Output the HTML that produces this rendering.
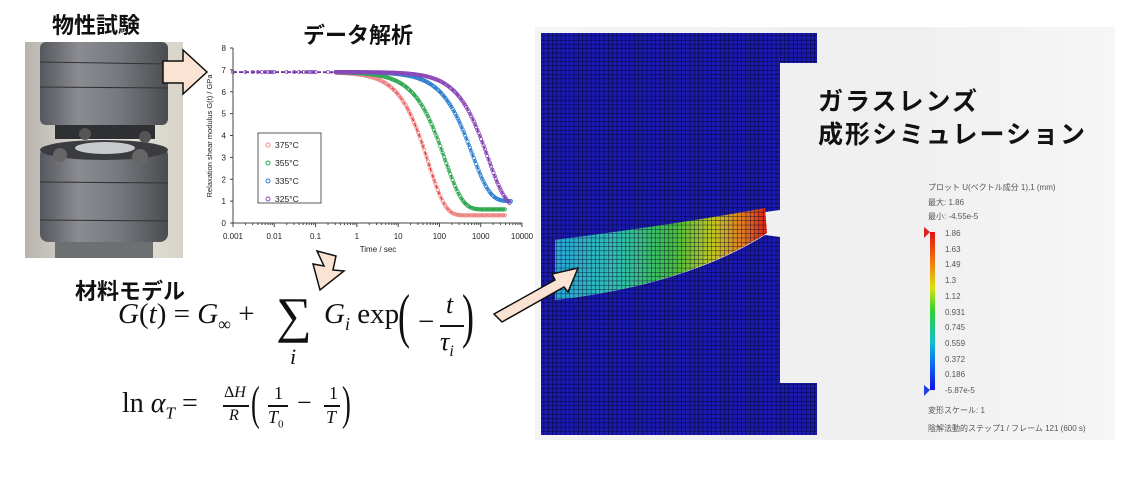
<!DOCTYPE html>
<html><head><meta charset="utf-8"><style>
html,body{margin:0;padding:0;background:#fff;width:1133px;height:479px;overflow:hidden;position:relative;font-family:"Liberation Sans","Noto Sans CJK JP",sans-serif}
.t{position:absolute;font-weight:bold;color:#111;white-space:nowrap}
.m{position:absolute;font-family:"Liberation Serif","DejaVu Serif",serif;color:#111;white-space:nowrap}
</style></head><body>
<div class="t" style="left:52px;top:8px;font-size:22px">物性試験</div>
<div class="t" style="left:303px;top:18px;font-size:22px">データ解析</div>
<div class="t" style="left:75px;top:274px;font-size:22px">材料モデル</div>

<!-- photo -->
<svg style="position:absolute;left:25px;top:42px" width="158" height="216">
<defs>
<linearGradient id="cyl" x1="0" x2="1"><stop offset="0" stop-color="#55575c"/><stop offset=".3" stop-color="#8a8c92"/><stop offset=".6" stop-color="#777a80"/><stop offset="1" stop-color="#4a4c50"/></linearGradient>
<linearGradient id="bgp" x1="0" x2="1"><stop offset="0" stop-color="#b8b4ad"/><stop offset=".5" stop-color="#e8e6e0"/><stop offset="1" stop-color="#d8d4c8"/></linearGradient>
</defs>
<rect width="158" height="216" fill="url(#bgp)"/>
<rect x="15" y="0" width="128" height="83" rx="6" fill="url(#cyl)"/>
<line x1="15" y1="20" x2="143" y2="22" stroke="#333" stroke-width="1"/>
<line x1="15" y1="45" x2="143" y2="46" stroke="#333" stroke-width="1"/>
<rect x="30" y="83" width="100" height="14" fill="#2e3034"/>
<rect x="15" y="105" width="128" height="95" rx="8" fill="url(#cyl)"/>
<ellipse cx="79" cy="108" rx="64" ry="10" fill="#3a3c40"/>
<ellipse cx="80" cy="106" rx="30" ry="6" fill="#c8cacc"/>
<circle cx="35" cy="113" r="7" fill="#666"/><circle cx="115" cy="115" r="8" fill="#666"/><circle cx="120" cy="95" r="6" fill="#555"/><circle cx="60" cy="92" r="6" fill="#555"/>
<line x1="15" y1="140" x2="143" y2="141" stroke="#333"/>
<line x1="15" y1="178" x2="143" y2="179" stroke="#333"/>
<rect x="30" y="200" width="98" height="16" fill="#6d6f73"/>
</svg>

<!-- chart -->
<svg id="ch" style="position:absolute;left:0;top:0" width="540" height="270" font-family="Liberation Sans,sans-serif"></svg>

<!-- formulas -->
<div class="m" style="left:118px;top:298px;font-size:29px"><i>G</i>(<i>t</i>) = <i>G</i><sub style="font-size:18px">∞</sub> +</div>
<div class="m" style="left:276px;top:286px;font-size:50px">∑</div>
<div class="m" style="left:290px;top:344px;font-size:22px"><i>i</i></div>
<div class="m" style="left:324px;top:298px;font-size:29px"><i>G<sub style="font-size:18px">i</sub></i> exp</div>
<div class="m" style="left:398px;top:282px;font-size:60px;transform:scaleX(.6);transform-origin:left">(</div>
<div class="m" style="left:418px;top:306px;font-size:29px">−</div>
<div class="m" style="left:446px;top:290px;font-size:26px"><i>t</i></div>
<div style="position:absolute;left:440px;top:325px;width:24px;height:2px;background:#111"></div>
<div class="m" style="left:440px;top:327px;font-size:26px"><i>τ<sub style="font-size:16px">i</sub></i></div>
<div class="m" style="left:462px;top:282px;font-size:60px;transform:scaleX(.6);transform-origin:left">)</div>

<div class="m" style="left:122px;top:388px;font-size:28px">ln <i>α<sub style="font-size:17px">T</sub></i> =</div>
<div class="m" style="left:224px;top:384px;font-size:16px">Δ<i>H</i></div>
<div style="position:absolute;left:223px;top:405px;width:26px;height:1.5px;background:#111"></div>
<div class="m" style="left:229px;top:407px;font-size:16px"><i>R</i></div>
<div class="m" style="left:251px;top:376px;font-size:48px;transform:scaleX(.55);transform-origin:left">(</div>
<div class="m" style="left:274px;top:383px;font-size:18px">1</div>
<div style="position:absolute;left:268px;top:405px;width:20px;height:1.5px;background:#111"></div>
<div class="m" style="left:268px;top:407px;font-size:18px"><i>T</i><sub style="font-size:11px">0</sub></div>
<div class="m" style="left:297px;top:388px;font-size:26px">−</div>
<div class="m" style="left:329px;top:383px;font-size:18px">1</div>
<div style="position:absolute;left:324px;top:405px;width:16px;height:1.5px;background:#111"></div>
<div class="m" style="left:326px;top:407px;font-size:18px"><i>T</i></div>
<div class="m" style="left:342px;top:376px;font-size:48px;transform:scaleX(.55);transform-origin:left">)</div>

<!-- simulation -->
<div style="position:absolute;left:535px;top:27px;width:580px;height:413px;background:linear-gradient(90deg,#f4f4f4,#efefef 60%,#f6f6f6)"></div>
<svg style="position:absolute;left:535px;top:27px" width="580" height="413">
<defs>
<pattern id="mesh" width="4.3" height="4.3" patternUnits="userSpaceOnUse"><path d="M0 0H4.3M0 0V4.3" stroke="#05052a" stroke-width="1" fill="none"/></pattern>
<linearGradient id="lens" x1="0" x2="1"><stop offset="0" stop-color="#28a8d8"/><stop offset=".3" stop-color="#30c0b0"/><stop offset=".55" stop-color="#40c040"/><stop offset=".75" stop-color="#c8c820"/><stop offset=".88" stop-color="#e08020"/><stop offset="1" stop-color="#e02010"/></linearGradient>
<linearGradient id="cb" x1="0" x2="0" y1="0" y2="1"><stop offset="0" stop-color="#e01010"/><stop offset=".2" stop-color="#f08010"/><stop offset=".35" stop-color="#e0e010"/><stop offset=".5" stop-color="#30d030"/><stop offset=".7" stop-color="#10c0d0"/><stop offset=".85" stop-color="#1060f0"/><stop offset="1" stop-color="#1010e0"/></linearGradient>
</defs>
<path d="M6 6H282V36H245V183L230 185Q150 196 20 213V273Q150 258 230 208L245 210V356H282V408H6Z" fill="#1a1ab0"/>
<path d="M6 6H282V36H245V183L230 185Q150 196 20 213V273Q150 258 230 208L245 210V356H282V408H6Z" fill="url(#mesh)"/>
<path d="M20 213Q150 196 230 181L232 206Q150 258 20 273Z" fill="url(#lens)"/>
<path d="M20 213Q150 196 230 181L232 206Q150 258 20 273Z" fill="url(#mesh)" opacity=".85"/>
<rect x="395" y="205" width="5" height="158" fill="url(#cb)"/>
<polygon points="389,200 395,205 389,211" fill="#e02020"/>
<polygon points="389,358 395,363 389,369" fill="#2040e0"/>
<g font-size="8" fill="#555" font-family="Liberation Sans,Noto Sans CJK JP,sans-serif">
<text x="393" y="163">プロット U(ベクトル成分 1),1 (mm)</text>
<text x="393" y="178">最大: 1.86</text>
<text x="393" y="192">最小: -4.55e-5</text>
<text x="410" y="209">1.86</text><text x="410" y="225">1.63</text><text x="410" y="240">1.49</text><text x="410" y="256">1.3</text><text x="410" y="272">1.12</text><text x="410" y="288">0.931</text><text x="410" y="303">0.745</text><text x="410" y="319">0.559</text><text x="410" y="335">0.372</text><text x="410" y="350">0.186</text><text x="410" y="366">-5.87e-5</text>
<text x="393" y="386">変形スケール: 1</text>
<text x="393" y="404">陰解法動的ステップ1 / フレーム 121 (600 s)</text>
</g>
</svg>
<div class="t" style="left:818px;top:82px;font-size:25px;letter-spacing:2px">ガラスレンズ</div>
<div class="t" style="left:818px;top:115px;font-size:25px;letter-spacing:2px">成形シミュレーション</div>

<!-- arrows -->
<svg style="position:absolute;left:0;top:0" width="600" height="479">
<polygon points="163,61 183,61 183,50 207,72 183,94 183,83 163,83" fill="#fbe3d3" stroke="#111" stroke-width="1.5"/>
<polygon points="317,251 336,256 333,270 344,271 320,290 313,264 324,266" fill="#fbe3d3" stroke="#111" stroke-width="1.5"/>
<polygon points="494,314 555,280 552,274 578,268 568,292 564,287 502,322" fill="#fbe3d3" stroke="#111" stroke-width="1.5"/>
</svg>

<script>
var s=document.getElementById('ch'),h='';
var X0=233,X1=522,Y0=223,Y1=48;
function px(l){return X0+(l+3)/7*(X1-X0);}function py(g){return Y0-g/8*(Y0-Y1);}
h+='<rect x="'+X0+'" y="'+Y1+'" width="'+(X1-X0)+'" height="'+(Y0-Y1)+'" fill="#fff"/>';
h+='<path d="M'+X0+' '+Y1+'V'+Y0+'H'+X1+'" stroke="#444" fill="none" stroke-width="1"/>';
for(var i=0;i<=8;i++){h+='<text x="'+(X0-7)+'" y="'+(py(i)+3)+'" font-size="8" text-anchor="end" fill="#222">'+i+'</text><line x1="'+(X0-3)+'" x2="'+X0+'" y1="'+py(i)+'" y2="'+py(i)+'" stroke="#444"/>';}
var lb=['0.001','0.01','0.1','1','10','100','1000','10000'];
for(var d=-3;d<=4;d++){h+='<text x="'+px(d)+'" y="'+(Y0+16)+'" font-size="8" text-anchor="middle" fill="#222">'+lb[d+3]+'</text><line x1="'+px(d)+'" x2="'+px(d)+'" y1="'+Y0+'" y2="'+(Y0+4)+'" stroke="#444"/>';
 if(d<4)for(var k=2;k<10;k++){var x=px(d+Math.log10(k));h+='<line x1="'+x+'" x2="'+x+'" y1="'+Y0+'" y2="'+(Y0+2)+'" stroke="#444"/>';}}
h+='<text x="378" y="252" font-size="8" text-anchor="middle" fill="#222">Time / sec</text>';
h+='<text transform="translate(212,136) rotate(-90)" font-size="7.5" text-anchor="middle" fill="#222">Relaxation shear modulus G(t) / GPa</text>';
// color, line, Ginf, tau, beta, end log
var S=[['#f08a8a','#e02020',0.35,54,1.05,3.6],['#30a850','#20a040',0.62,135,1.0,3.6],['#2c7fd0','#2070c8',1.0,620,1.0,3.75],['#8a48b8','#7030a0',0.7,1500,1.0,3.7]];
function G(c,l){var t=Math.pow(10,l);return c[2]+(6.9-c[2])*Math.exp(-Math.pow(t/c[3],c[4]));}
S.forEach(function(c){var d='';
 for(var l=-3;l<=c[5];l+=0.02){d+=(d?'L':'M')+px(l).toFixed(1)+' '+py(G(c,l)).toFixed(1);}
 h+='<path d="'+d+'" stroke="'+c[1]+'" fill="none" stroke-width="1.5" stroke-dasharray="4 2"/>';
 for(var l=-0.5;l<=c[5];l+=0.03){h+='<circle cx="'+px(l).toFixed(1)+'" cy="'+py(G(c,l)).toFixed(1)+'" r="1.7" fill="none" stroke="'+c[0]+'" stroke-width=".8"/>';}
});
[-3,-2.7,-2.52,-2.4,-2.3,-2.22,-2.15,-2.1,-2.05,-2,-1.7,-1.52,-1.4,-1.3,-1.22,-1.15,-1.1,-1.05,-1,-0.7,-0.52,-0.4,-0.3,-0.2].forEach(function(l){h+='<circle cx="'+px(l).toFixed(1)+'" cy="'+py(6.9)+'" r="1.7" fill="none" stroke="#8a48b8" stroke-width=".8"/>';});
h+='<rect x="258" y="133" width="63" height="70" fill="#fff" stroke="#333" stroke-width=".8"/>';
['375','355','335','325'].forEach(function(t,i){var y=145+i*18;h+='<circle cx="268" cy="'+y+'" r="2" fill="none" stroke="'+S[i][0]+'"/><text x="275" y="'+(y+3)+'" font-size="8.5" fill="#222">'+t+'°C</text>';});
s.innerHTML=h;
</script>
</body></html>
